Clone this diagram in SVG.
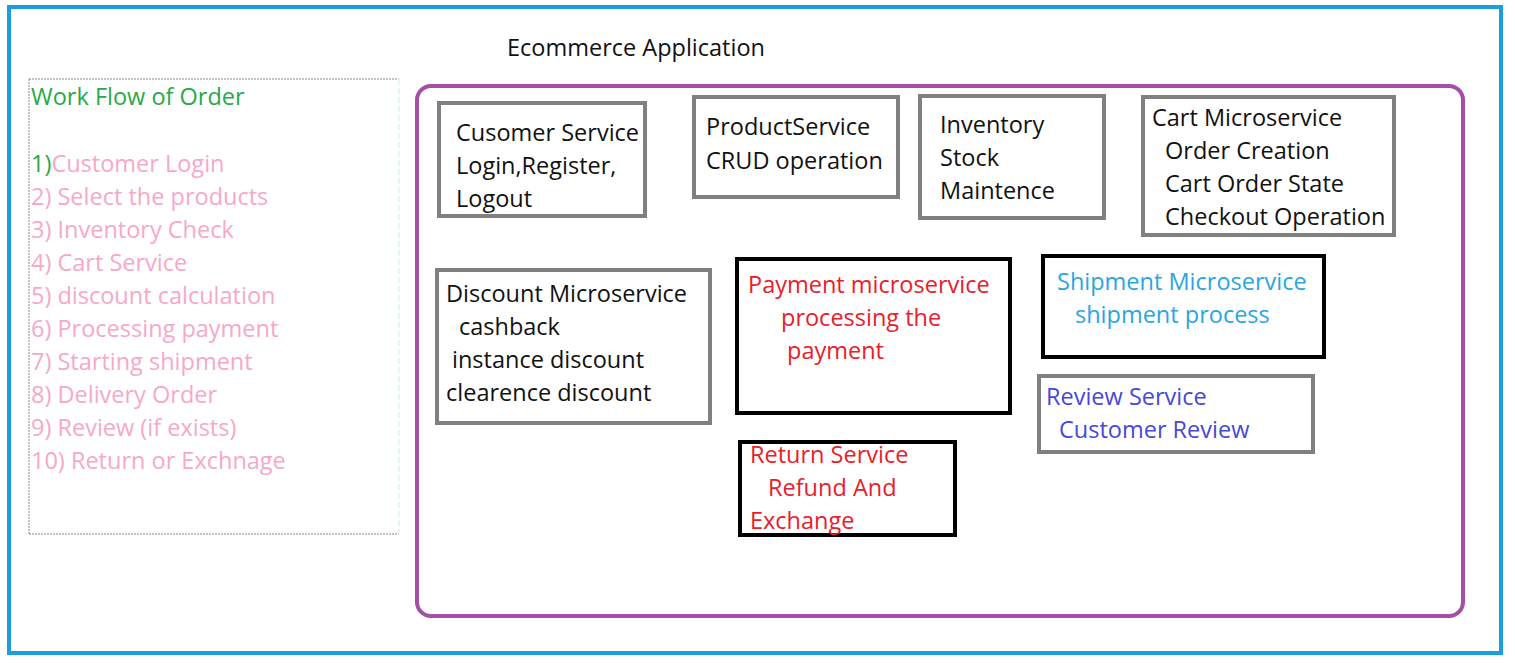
<svg xmlns="http://www.w3.org/2000/svg" width="1515" height="663" viewBox="0 0 1515 663">
<style>
text{font-family:"Open Sans","Noto Sans",sans-serif;font-size:23.5px;fill:#111}
.gray{fill:#fff;stroke:#808080;stroke-width:4}
.blk{fill:#fff;stroke:#000;stroke-width:4}
.pink{fill:#f7a8c9}
.green{fill:#2aa84a}
.red{fill:#e8202a}
.cyan{fill:#2aa6df}
.violet{fill:#4848d6}
</style>
<rect x="0" y="0" width="1515" height="663" fill="#fff"/>
<rect id="frame" x="9" y="7" width="1492" height="646" fill="none" stroke="#1a9ee0" stroke-width="4"/>
<g id="title"><text x="507" y="56">Ecommerce Application</text></g>
<g id="workflow">
<path d="M29 79H399M29 534H399M29 79V534" fill="none" stroke="#888" stroke-width="1" stroke-dasharray="2 1"/>
<path d="M399 79V534" fill="none" stroke="#d8f6fa" stroke-width="1.5" stroke-dasharray="6 3"/>
<text x="31" y="105" class="green">Work Flow of Order</text>
<text x="31" y="172"><tspan class="green">1)</tspan><tspan class="pink">Customer Login</tspan></text>
<text x="31" y="205" class="pink">2) Select the products</text>
<text x="31" y="238" class="pink">3) Inventory Check</text>
<text x="31" y="271" class="pink">4) Cart Service</text>
<text x="31" y="304" class="pink">5) discount calculation</text>
<text x="31" y="337" class="pink">6) Processing payment</text>
<text x="31" y="370" class="pink">7) Starting shipment</text>
<text x="31" y="403" class="pink">8) Delivery Order</text>
<text x="31" y="436" class="pink">9) Review (if exists)</text>
<text x="31" y="469" class="pink">10) Return or Exchnage</text>
</g>
<g id="app"><rect x="417" y="86" width="1046" height="530" rx="14" fill="none" stroke="#a44ea8" stroke-width="4"/></g>
<g id="customer"><rect x="439" y="103" width="206" height="113" class="gray"/>
<text x="456" y="141">Cusomer Service</text><text x="456" y="174">Login,Register,</text><text x="456" y="207">Logout</text></g>
<g id="product"><rect x="694" y="97" width="204" height="100" class="gray"/>
<text x="706" y="135">ProductService</text><text x="706" y="169">CRUD operation</text></g>
<g id="inventory"><rect x="920" y="96" width="184" height="122" class="gray"/>
<text x="940" y="133">Inventory</text><text x="940" y="166">Stock</text><text x="940" y="199">Maintence</text></g>
<g id="cart"><rect x="1143" y="97" width="251" height="138" class="gray"/>
<text x="1152" y="126">Cart Microservice</text><text x="1165" y="159">Order Creation</text><text x="1165" y="192">Cart Order State</text><text x="1165" y="225">Checkout Operation</text></g>
<g id="discount"><rect x="437" y="270" width="273" height="153" class="gray"/>
<text x="446" y="302">Discount Microservice</text><text x="459" y="335">cashback</text><text x="452" y="368">instance discount</text><text x="446" y="401">clearence discount</text></g>
<g id="payment"><rect x="737" y="259" width="273" height="154" class="blk"/>
<text x="748" y="293" class="red">Payment microservice</text><text x="781" y="326" class="red">processing the</text><text x="787" y="359" class="red">payment</text></g>
<g id="return"><rect x="740" y="442" width="215" height="93" class="blk"/>
<text x="750" y="463" class="red">Return Service</text><text x="768" y="496" class="red">Refund And</text><text x="750" y="529" class="red">Exchange</text></g>
<g id="shipment"><rect x="1043" y="256" width="281" height="101" class="blk"/>
<text x="1057" y="290" class="cyan">Shipment Microservice</text><text x="1075" y="323" class="cyan">shipment process</text></g>
<g id="review"><rect x="1039" y="376" width="274" height="76" class="gray"/>
<text x="1046" y="405" class="violet">Review Service</text><text x="1059" y="438" class="violet">Customer Review</text></g>
<g id="connectors"></g>
</svg>
